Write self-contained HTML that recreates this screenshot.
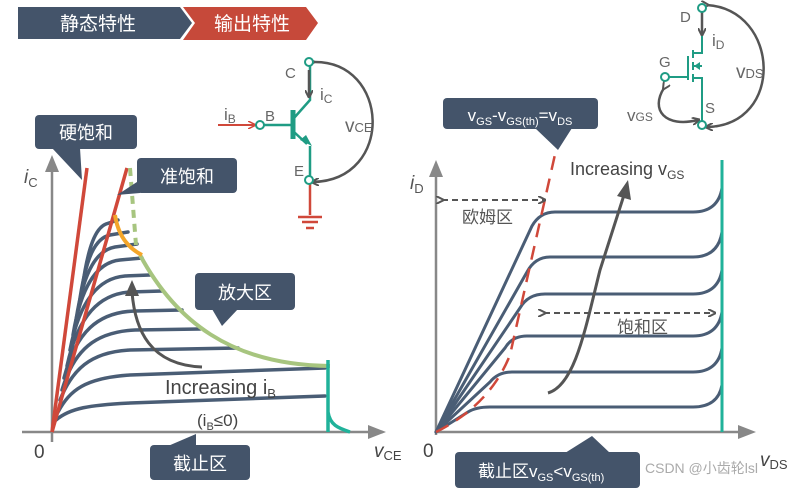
<!DOCTYPE html>
<html><head><meta charset="utf-8"><style>
html,body{margin:0;padding:0;background:#fff;}
svg{display:block;font-family:"Liberation Sans","Noto Sans CJK SC",sans-serif;}
</style></head><body>
<svg width="796" height="489" viewBox="0 0 796 489" xmlns="http://www.w3.org/2000/svg">
<defs>
<marker id="ag" markerWidth="8" markerHeight="8" refX="6" refY="4" orient="auto" markerUnits="userSpaceOnUse"><path d="M0,0 L8,4 L0,8" fill="none" stroke="#555" stroke-width="2"/></marker>
<marker id="ar" markerWidth="8" markerHeight="8" refX="6" refY="4" orient="auto" markerUnits="userSpaceOnUse"><path d="M0,0 L8,4 L0,8" fill="none" stroke="#d0483a" stroke-width="1.5"/></marker>
</defs>
<polygon points="18,7 180,7 192,23 180,39 18,39" fill="#44546a"/>
<text x="98" y="30" font-size="19" fill="#fff" text-anchor="middle">静态特性</text>
<polygon points="183,7 306,7 318,23 306,40 183,40 195,23" fill="#c6493a"/>
<text x="252" y="30" font-size="19" fill="#fff" text-anchor="middle">输出特性</text>

<line x1="52" y1="442" x2="52" y2="170" stroke="#888" stroke-width="2.5"/>
<polygon points="45,172 59,172 52,155" fill="#888"/>
<line x1="22" y1="432" x2="370" y2="432" stroke="#888" stroke-width="2.5"/>
<polygon points="368,425 368,439 386,432" fill="#888"/>
<text x="34" y="458" font-size="19" fill="#444">0</text>
<text x="374" y="457" font-size="19" font-style="italic" fill="#444">v<tspan font-size="13" font-style="normal" dy="3">CE</tspan></text>
<text x="24" y="183" font-size="19" font-style="italic" fill="#555">i<tspan font-size="13" font-style="normal" dy="4">C</tspan></text>

<g fill="none" stroke="#4a5d75" stroke-width="3.5" stroke-linecap="round">
<path d="M56,420 C70,408 90,405 130,403 L325,396"/>
<path d="M58,412 C70,390 85,378 130,375 L325,368"/>
<path d="M60,400 C72,370 90,352 130,350 L238,348"/>
<path d="M62,390 C74,350 95,332 135,330 L200,329"/>
<path d="M64,378 C76,332 98,312 135,311 L182,310"/>
<path d="M67,366 C78,315 100,294 130,292 L162,291"/>
<path d="M70,350 C80,298 100,278 125,276 L150,275"/>
<path d="M73,335 C82,280 100,262 120,260 L142,258"/>
<path d="M76,320 C84,268 98,250 115,247 L137,244"/>
<path d="M79,305 C86,255 96,238 110,235 L128,232"/>
<path d="M82,290 C88,245 96,228 106,224 L118,220"/>
</g>
<line x1="52" y1="432" x2="87" y2="168" stroke="#d0483a" stroke-width="3.5"/>
<line x1="52" y1="432" x2="127" y2="168" stroke="#d0483a" stroke-width="3.5"/>
<path d="M130,168 L136,245" fill="none" stroke="#a7c57f" stroke-width="4" stroke-dasharray="8,6"/>
<path d="M140,255 C175,320 230,365 330,366" fill="none" stroke="#a7c57f" stroke-width="4"/>
<path d="M115,215 C118,235 128,248 142,255" fill="none" stroke="#f4a62a" stroke-width="4"/>
<path d="M328,360 L328,432 M328,412 C330,425 338,428 350,432" fill="none" stroke="#20b29a" stroke-width="3.5"/>
<path d="M202,367 C150,365 135,330 132,292" fill="none" stroke="#555" stroke-width="3"/>
<polygon points="125,296 132,280 139,296" fill="#555"/>
<text x="165" y="394" font-size="20" fill="#444">Increasing i<tspan font-size="13" dy="4">B</tspan></text>
<text x="197" y="426" font-size="17" fill="#444">(i<tspan font-size="11" dy="4">B</tspan><tspan dy="-4">≤0)</tspan></text>

<rect x="35" y="115" width="102" height="34" rx="4" fill="#44546a"/>
<polygon points="52,148 80,148 82,180" fill="#44546a"/>
<text x="86" y="139" font-size="18" fill="#fff" text-anchor="middle">硬饱和</text>
<rect x="137" y="158" width="100" height="35" rx="4" fill="#44546a"/>
<polygon points="140,180 140,193 117,195" fill="#44546a"/>
<text x="187" y="183" font-size="18" fill="#fff" text-anchor="middle">准饱和</text>
<rect x="195" y="273" width="100" height="37" rx="4" fill="#44546a"/>
<polygon points="212,309 238,309 222,326" fill="#44546a"/>
<text x="245" y="299" font-size="18" fill="#fff" text-anchor="middle">放大区</text>
<rect x="150" y="445" width="100" height="35" rx="4" fill="#44546a"/>
<polygon points="168,446 196,446 196,434" fill="#44546a"/>
<text x="200" y="470" font-size="18" fill="#fff" text-anchor="middle">截止区</text>

<g fill="none" stroke-width="2.5">
<line x1="218" y1="125" x2="254" y2="125" stroke="#d0483a" stroke-width="2" marker-end="url(#ar)"/>
<line x1="264" y1="125" x2="293" y2="125" stroke="#1f9c84"/>
<line x1="293" y1="110" x2="293" y2="139" stroke="#1f9c84" stroke-width="5"/>
<path d="M294,118 L310,100 L310,66" stroke="#1f9c84"/>
<path d="M294,132 L307,144" stroke="#1f9c84"/>
<path d="M310,146 L310,176" stroke="#1f9c84"/>
<line x1="310" y1="184" x2="310" y2="215" stroke="#d0483a"/>
<line x1="298" y1="217" x2="322" y2="217" stroke="#d0483a"/>
<line x1="302" y1="222" x2="318" y2="222" stroke="#d0483a"/>
<line x1="306" y1="228" x2="314" y2="228" stroke="#d0483a"/>
<line x1="309" y1="70" x2="309" y2="96" stroke="#555" marker-end="url(#ag)"/>
<path d="M313,62 C390,60 395,180 313,182" stroke="#555" marker-start="url(#ag)" marker-end="url(#ag)"/>
</g>
<polygon points="300,140 312,146 306,135" fill="#1f9c84"/>
<circle cx="260" cy="125" r="4" fill="#fff" stroke="#1f9c84" stroke-width="2"/>
<circle cx="309" cy="62" r="4" fill="#fff" stroke="#1f9c84" stroke-width="2"/>
<circle cx="309" cy="180" r="4" fill="#fff" stroke="#1f9c84" stroke-width="2"/>
<text x="285" y="78" font-size="15" fill="#666">C</text>
<text x="320" y="100" font-size="17" fill="#666">i<tspan font-size="12" dy="3">C</tspan></text>
<text x="224" y="120" font-size="17" fill="#666">i<tspan font-size="12" dy="3">B</tspan></text>
<text x="265" y="121" font-size="15" fill="#666">B</text>
<text x="294" y="176" font-size="15" fill="#666">E</text>
<text x="345" y="132" font-size="19" fill="#666">v<tspan font-size="13">CE</tspan></text>

<line x1="436" y1="435" x2="436" y2="175" stroke="#888" stroke-width="2.5"/>
<polygon points="429,177 443,177 436,160" fill="#888"/>
<line x1="436" y1="432" x2="740" y2="432" stroke="#888" stroke-width="2.5"/>
<polygon points="738,425 738,439 756,432" fill="#888"/>
<text x="423" y="457" font-size="19" fill="#444">0</text>
<text x="760" y="466" font-size="19" font-style="italic" fill="#444">v<tspan font-size="13" font-style="normal" dy="3">DS</tspan></text>
<text x="410" y="189" font-size="19" font-style="italic" fill="#555">i<tspan font-size="13" font-style="normal" dy="4">D</tspan></text>
<g fill="none" stroke="#4a5d75" stroke-width="3" stroke-linecap="round">
<path d="M436,432 L532,226 Q540,212 555,212 L693,212 Q718,212 722,188"/>
<path d="M436,432 L527,272 Q535,257 550,257 L693,257 Q718,257 722,232"/>
<path d="M436,432 L520,308 Q528,294 545,294 L693,294 Q718,294 722,270"/>
<path d="M436,432 L505,348 Q512,336 527,336 L693,336 Q718,336 722,312"/>
<path d="M436,432 L490,382 Q498,372 512,372 L693,372 Q718,372 722,348"/>
<path d="M436,432 L468,412 Q476,407 490,407 L693,407 Q718,407 722,385"/>
</g>
<line x1="722" y1="160" x2="722" y2="432" stroke="#20b29a" stroke-width="3"/>
<path d="M436,432 Q490,405 510,355 L556,150" fill="none" stroke="#d0483a" stroke-width="2.5" stroke-dasharray="14,9"/>
<path d="M548,393 C575,385 585,330 600,270 L624,195" fill="none" stroke="#555" stroke-width="3"/>
<polygon points="617,196 628,180 631,200" fill="#555"/>
<text x="570" y="175" font-size="18" fill="#444">Increasing v<tspan font-size="12" dy="4">GS</tspan></text>
<line x1="442" y1="200" x2="544" y2="200" stroke="#555" stroke-width="2" stroke-dasharray="6,4" marker-start="url(#ag)" marker-end="url(#ag)"/>
<text x="462" y="223" font-size="17" fill="#555">欧姆区</text>
<line x1="544" y1="313" x2="714" y2="313" stroke="#555" stroke-width="2" stroke-dasharray="6,4" marker-start="url(#ag)" marker-end="url(#ag)"/>
<text x="617" y="333" font-size="17" fill="#555">饱和区</text>

<rect x="443" y="98" width="155" height="31" rx="4" fill="#44546a"/>
<polygon points="535,128 572,128 558,150" fill="#44546a"/>
<text x="520" y="121" font-size="17" fill="#fff" text-anchor="middle">v<tspan font-size="11" dy="4">GS</tspan><tspan dy="-4">-v</tspan><tspan font-size="11" dy="4">GS(th)</tspan><tspan dy="-4">=v</tspan><tspan font-size="11" dy="4">DS</tspan></text>
<rect x="455" y="452" width="185" height="36" rx="4" fill="#44546a"/>
<polygon points="565,453 610,453 592,436" fill="#44546a"/>
<text x="478" y="477" font-size="17" fill="#fff">截止区v<tspan font-size="11" dy="4">GS</tspan><tspan dy="-4">&lt;v</tspan><tspan font-size="11" dy="4">GS(th)</tspan></text>
<text x="645" y="473" font-size="14" fill="#aaa">CSDN @小齿轮lsl</text>

<g fill="none" stroke="#1f9c84" stroke-width="2">
<path d="M702,36 L702,53 L692,53"/>
<line x1="688" y1="56" x2="688" y2="80"/>
<line x1="668" y1="77" x2="688" y2="77"/>
<path d="M693,50 L693,58 M693,62 L693,70 M693,74 L693,82"/>
<path d="M693,66 L702,66 M693,78 L702,78 L702,122"/>
</g>
<polygon points="694,66 700,62 700,70" fill="#1f9c84"/>
<g fill="none" stroke="#555" stroke-width="2.5">
<line x1="702" y1="12" x2="702" y2="34" marker-end="url(#ag)"/>
<path d="M707,5 C780,10 785,125 707,127" marker-start="url(#ag)" marker-end="url(#ag)"/>
<path d="M664,88 C650,110 665,128 698,120" marker-start="url(#ag)" marker-end="url(#ag)"/>
</g>
<circle cx="702" cy="8" r="4" fill="#fff" stroke="#1f9c84" stroke-width="2"/>
<circle cx="665" cy="77" r="4" fill="#fff" stroke="#1f9c84" stroke-width="2"/>
<circle cx="702" cy="125" r="4" fill="#fff" stroke="#1f9c84" stroke-width="2"/>
<text x="680" y="22" font-size="15" fill="#666">D</text>
<text x="712" y="46" font-size="17" fill="#666">i<tspan font-size="12" dy="3">D</tspan></text>
<text x="659" y="67" font-size="15" fill="#666">G</text>
<text x="705" y="113" font-size="15" fill="#666">S</text>
<text x="736" y="78" font-size="19" fill="#666">v<tspan font-size="13">DS</tspan></text>
<text x="627" y="121" font-size="17" fill="#666">v<tspan font-size="12">GS</tspan></text>
</svg>
</body></html>
